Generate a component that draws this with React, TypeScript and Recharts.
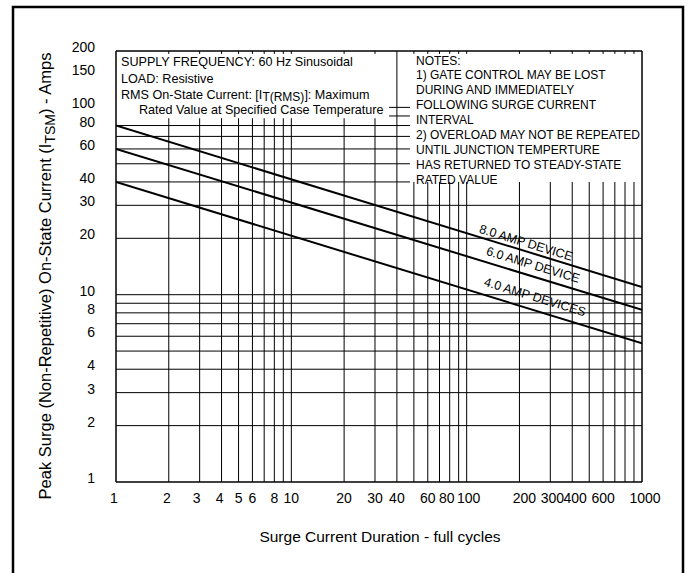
import React from "react";
import { LineChart, Line, XAxis, YAxis, ReferenceLine, ReferenceDot } from "recharts";

const FONT = '"Liberation Sans", Arial, Helvetica, sans-serif';

// surge duration (full cycles) at both ends of each rating line
const durations = [1, 1000];
const amps8 = [80, 11];
const amps6 = [60, 8.3];
const amps4 = [40, 5.5];

const xTicks = [1, 2, 3, 4, 5, 6, 8, 10, 20, 30, 40, 60, 80, 100, 200, 300, 400, 600, 1000];
const yTicks = [1, 2, 3, 4, 6, 8, 10, 20, 30, 40, 60, 80, 100, 150, 200];

const gridX = [2, 3, 4, 5, 6, 7, 8, 9, 10, 20, 30, 40, 50, 60, 70, 80, 90, 100, 200, 300, 400, 500, 600, 700, 800, 900];
const gridY = [2, 3, 4, 5, 6, 7, 8, 9, 10, 20, 30, 40, 50, 60, 70, 80, 90, 100];

const deviceLabels = ["8.0 AMP DEVICE", "6.0 AMP DEVICE", "4.0 AMP DEVICES"];
const labelDur = [218, 239, 245];
const labelAmps = [18.9, 14.4, 9.7];

const notes = [
  "NOTES:",
  "1) GATE CONTROL MAY BE LOST",
  "DURING AND IMMEDIATELY",
  "FOLLOWING SURGE CURRENT",
  "INTERVAL",
  "2) OVERLOAD MAY NOT BE REPEATED",
  "UNTIL JUNCTION TEMPERTURE",
  "HAS RETURNED TO STEADY-STATE",
  "RATED VALUE",
];

const toRows = (vals: number[]) => durations.map((d, i) => ({ duration: d, amps: vals[i] }));

// where the two text boxes hide the grid (data units)
const LEFT_BOX_RIGHT = 36.1;
const LEFT_BOX_BOTTOM = 87.5;
const NOTES_LEFT = 47.5;
const NOTES_BOTTOM = 40;

// the printed labels sit a little off their grid lines
const xNudge: Record<number, number> = { 1: -2, 2: -2, 3: -3, 4: -2, 80: -3, 100: 2, 200: 5, 300: 2, 400: 3, 1000: 3 };

const XTick = ({ x, y, payload }: any) => (
  <text x={x + (xNudge[payload.value] || 0)} y={y + 21} textAnchor="middle" fontSize={14} fontFamily={FONT} fill="#000">
    {payload.value}
  </text>
);

const YTick = ({ x, y, payload }: any) => (
  <text x={x - 21} y={y + 1} textAnchor="end" fontSize={14} fontFamily={FONT} fill="#000">
    {payload.value}
  </text>
);

export default function App() {
  const gridStyle = { stroke: "#000", strokeWidth: 1, ifOverflow: "visible" as const };
  return (
    <div style={{ position: "absolute", left: 0, top: 0, width: 689, height: 573, background: "#fff", overflow: "hidden" }}>
      <LineChart width={689} height={573} margin={{ top: 51, right: 47, bottom: 0, left: 0 }}>
        <XAxis
          type="number"
          dataKey="duration"
          scale="log"
          domain={[1, 1000]}
          ticks={xTicks}
          interval={0}
          height={91}
          axisLine={false}
          tickLine={false}
          tickSize={0}
          tickMargin={0}
          tick={<XTick />}
          allowDataOverflow
        />
        <YAxis
          type="number"
          scale="log"
          domain={[1, 200]}
          ticks={yTicks}
          interval={0}
          width={116}
          axisLine={false}
          tickLine={false}
          tickSize={0}
          tickMargin={0}
          tick={<YTick />}
          allowDataOverflow
        />

        {/* vertical grid */}
        {gridX.map((v) => {
          const top = v === 40 ? 200 : v < 40 ? LEFT_BOX_BOTTOM : NOTES_BOTTOM;
          return (
            <ReferenceLine key={"vx" + v} segment={[{ x: v, y: 1 }, { x: v, y: top }]} {...gridStyle} />
          );
        })}
        {gridX.filter((v) => v !== 40).map((v) => (
          <ReferenceLine key={"tx" + v} segment={[{ x: v, y: 193 }, { x: v, y: 200 }]} {...gridStyle} />
        ))}

        {/* horizontal grid */}
        {gridY.map((v) => {
          const from = v > 80 ? LEFT_BOX_RIGHT : 1;
          const to = v >= NOTES_BOTTOM ? NOTES_LEFT : 1000;
          return (
            <ReferenceLine key={"hy" + v} segment={[{ x: from, y: v }, { x: to, y: v }]} {...gridStyle} />
          );
        })}

        {/* plot border */}
        <ReferenceLine x={1} stroke="#000" strokeWidth={1.5} ifOverflow="visible" />
        <ReferenceLine x={1000} stroke="#000" strokeWidth={1.5} ifOverflow="visible" />
        <ReferenceLine y={1} stroke="#000" strokeWidth={1.5} ifOverflow="visible" />
        <ReferenceLine y={200} stroke="#000" strokeWidth={1.5} ifOverflow="visible" />

        <Line data={toRows(amps8)} dataKey="amps" type="linear" stroke="#000" strokeWidth={2} dot={false} isAnimationActive={false} />
        <Line data={toRows(amps6)} dataKey="amps" type="linear" stroke="#000" strokeWidth={2} dot={false} isAnimationActive={false} />
        <Line data={toRows(amps4)} dataKey="amps" type="linear" stroke="#000" strokeWidth={2} dot={false} isAnimationActive={false} />

        {deviceLabels.map((t, i) => (
          <ReferenceDot
            key={t}
            x={labelDur[i]}
            y={labelAmps[i]}
            r={0}
            ifOverflow="visible"
            shape={(p: any) => (
              <text
                x={p.cx}
                y={p.cy}
                dy={4}
                textAnchor="middle"
                fontSize={12.5}
                fontFamily={FONT}
                fill="#000"
                transform={`rotate(17 ${p.cx} ${p.cy})`}
              >
                {t}
              </text>
            )}
          />
        ))}
      </LineChart>

      <svg width={689} height={573} style={{ position: "absolute", left: 0, top: 0, pointerEvents: "none" }}>
        <rect x={13} y={7} width={670} height={600} fill="none" stroke="#000" strokeWidth={2.5} />

        <g fontFamily={FONT} fontSize={12.6} fill="#000">
          <text x={121} y={66}>SUPPLY FREQUENCY: 60 Hz Sinusoidal</text>
          <text x={121} y={82.5}>LOAD: Resistive</text>
          <text x={121} y={98.5}>
            RMS On-State Current: [I
            <tspan dy={2} fontSize={12}>T(RMS)</tspan>
            <tspan dy={-2}>]: Maximum</tspan>
          </text>
          <text x={139} y={114}>Rated Value at Specified Case Temperature</text>
        </g>

        <g fontFamily={FONT} fontSize={12} fill="#000">
          {notes.map((n, i) => (
            <text key={n} x={416} y={64.5 + i * 14.9}>
              {n}
            </text>
          ))}
        </g>

        <text
          x={51}
          y={276}
          transform="rotate(-90 51 276)"
          textAnchor="middle"
          fontFamily={FONT}
          fontSize={16.5}
          fill="#000"
        >
          Peak Surge (Non-Repetitive) On-State Current (I
          <tspan dy={4} fontSize={14}>TSM</tspan>
          <tspan dy={-4}>) - Amps</tspan>
        </text>

        <text x={380} y={542} textAnchor="middle" fontFamily={FONT} fontSize={15.5} fill="#000">
          Surge Current Duration - full cycles
        </text>
      </svg>
    </div>
  );
}
